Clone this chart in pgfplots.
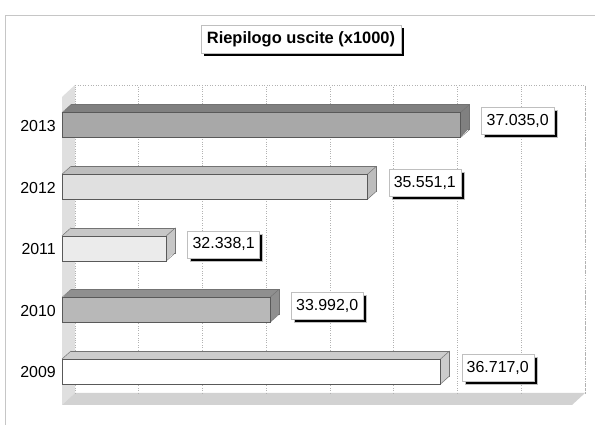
\documentclass[border=0pt]{standalone}
\usepackage{pgfplots}
\pgfplotsset{compat=1.18}
\usepackage{pgfplotstable}
\usepackage{fontspec}
\setmainfont{Liberation Sans}
\usetikzlibrary{shadows}

\definecolor{fA}{gray}{1.00}\definecolor{tA}{gray}{0.80}
\definecolor{fB}{gray}{0.72}\definecolor{tB}{gray}{0.56}
\definecolor{fC}{gray}{0.92}\definecolor{tC}{gray}{0.78}
\definecolor{fD}{gray}{0.88}\definecolor{tD}{gray}{0.74}
\definecolor{fE}{gray}{0.66}\definecolor{tE}{gray}{0.50}

% one small table per year: y position, value
\pgfplotstableread{
y v
0 36717.0
}\tabA
\pgfplotstableread{
y v
1 33992.0
}\tabB
\pgfplotstableread{
y v
2 32338.1
}\tabC
\pgfplotstableread{
y v
3 35551.1
}\tabD
\pgfplotstableread{
y v
4 37035.0
}\tabE

\newcommand\threedbar[3]{%
  \addplot[xbar, bar shift=0pt, bar width=25bp, fill=#3, draw=black!55, line width=0.5bp,
    xshift=9bp, yshift=8bp, forget plot] table[x expr=\thisrow{v}-30670, y=y]{#1};
  \pgfplotsinvokeforeach{8,7,...,1}{%
    \addplot[xbar, bar shift=0pt, bar width=25bp, fill=#3, draw=none,
      xshift=##1bp, yshift={##1*0.889bp}, forget plot] table[x expr=\thisrow{v}-30670, y=y]{#1};}
  % receding edges of the 3D bar
  \addplot[quiver={u=143.8, v=0.1299}, -, draw=black!55, line width=0.5bp, no markers, forget plot]
    table[x expr=\thisrow{v}-30670, y expr=\thisrow{y}+0.2029]{#1};
  \addplot[quiver={u=143.8, v=0.1299}, -, draw=black!55, line width=0.5bp, no markers, forget plot]
    table[x expr=\thisrow{v}-30670, y expr=\thisrow{y}-0.2029]{#1};
  \addplot[quiver={u=143.8, v=0.1299}, -, draw=black!55, line width=0.5bp, no markers, forget plot]
    table[x expr=0, y expr=\thisrow{y}+0.2029]{#1};
  \addplot[xbar, bar shift=0pt, bar width=25bp, fill=#2, draw=black!65, line width=0.5bp,
    nodes near coords, nodes near coords align={horizontal}, point meta=\thisrow{v}, forget plot]
    table[x expr=\thisrow{v}-30670, y=y]{#1};
}

\begin{document}
\begin{tikzpicture}
\useasboundingbox (0,0) rectangle (595bp,425bp);
\fill[white] (0,0) rectangle (595bp,425bp);
% outer frame
\draw[gray!45, line width=0.8bp] (5bp,0) -- (5bp,410bp) -- (595bp,410bp);
% left wall and floor
\fill[gray!25] (62bp,20bp) -- (62bp,328bp) -- (75bp,340bp) -- (75bp,32bp) -- cycle;
\fill[gray!35] (62bp,20bp) -- (572bp,20bp) -- (585bp,32bp) -- (75bp,32bp) -- cycle;
\draw[gray!60, dotted, line width=0.6bp] (75bp,340bp) -- (585bp,340bp) -- (585bp,32bp);
% title
\node[fill=white, draw=gray!50, line width=0.4bp, font=\bfseries\fontsize{16.5}{20}\selectfont,
  inner xsep=6bp, minimum height=28bp,
  drop shadow={shadow xshift=3bp, shadow yshift=-3bp, fill=black, opacity=1}]
  at (301bp,386bp) {Riepilogo uscite (x1000)};

\begin{axis}[
  at={(62bp,20bp)}, anchor=south west, scale only axis,
  width=510bp, height=308bp,
  xmin=0, xmax=8147, ymin=-0.544, ymax=4.456,
  clip=false,
  axis line style={draw=none},
  major tick style={draw=none},
  xtick={0,1018,2037,3055,4074,5092,6110,7129,8147},
  xticklabels={},
  xmajorgrids,
  major grid style={draw=gray!60, dotted, line width=0.6bp, xshift=13bp, yshift=12bp},
  ytick={0,1,2,3,4},
  yticklabels={2009,2010,2011,2012,2013},
  yticklabel style={font=\fontsize{16}{19}\selectfont, inner sep=0pt, xshift=-6bp, yshift=-1bp},
  /pgf/number format/.cd, fixed, fixed zerofill, precision=1, 1000 sep={.}, dec sep={{,}},
    assume math mode=true, /pgfplots/.cd,
  every node near coord/.append style={anchor=west, xshift=21bp, yshift=4bp, fill=white,
    draw=gray!50, line width=0.4bp, inner xsep=5bp, minimum height=27bp,
    font=\fontsize{16}{19}\selectfont, text=black,
    drop shadow={shadow xshift=3bp, shadow yshift=-3bp, fill=black, opacity=1}},
]
\threedbar{\tabE}{fE}{tE}
\threedbar{\tabD}{fD}{tD}
\threedbar{\tabC}{fC}{tC}
\threedbar{\tabB}{fB}{tB}
\threedbar{\tabA}{fA}{tA}
\end{axis}
\end{tikzpicture}
\end{document}
